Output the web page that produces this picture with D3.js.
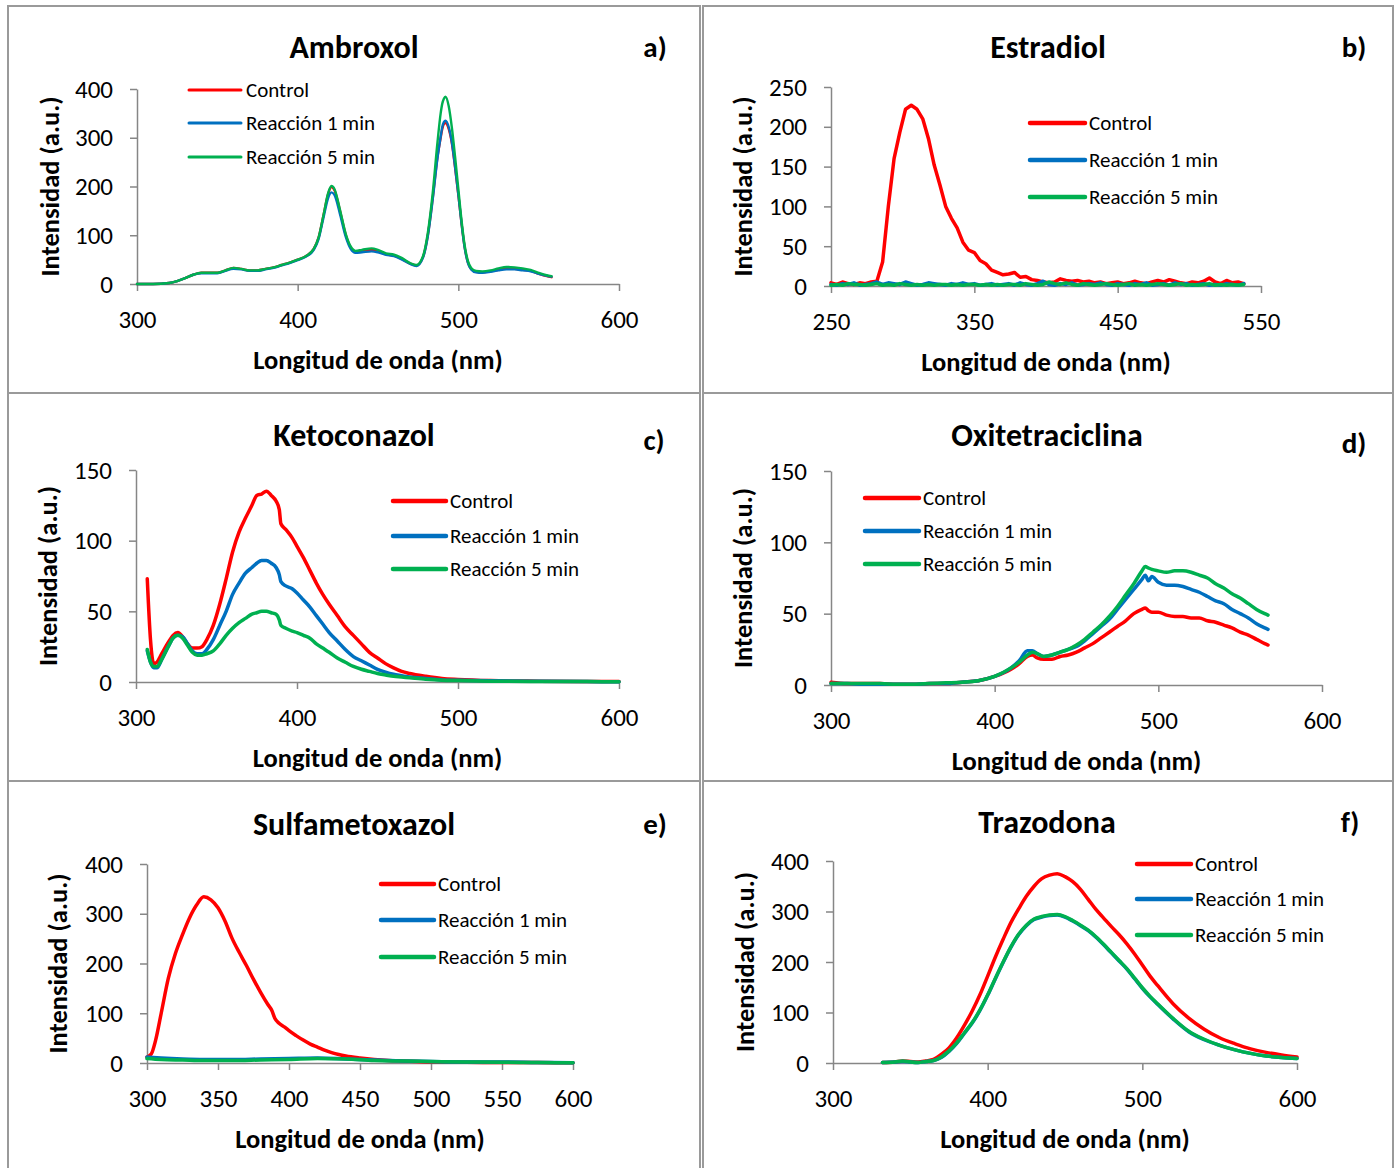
<!DOCTYPE html>
<html>
<head>
<meta charset="utf-8">
<script src="https://cdn.jsdelivr.net/npm/d3@7"></script>
<style>
  body { margin: 0; background: #fff; }
  text { font-family: Carlito, Calibri, Lato, "Open Sans", sans-serif; fill: #000; }
</style>
</head>
<body>
<svg id="chart" width="1399" height="1168"></svg>
<script>
// ---- data ----
var seriesNames = ["Control", "Reacción 1 min", "Reacción 5 min"];
var seriesColors = ["#FF0000", "#0070C0", "#00B050"];
var xTitle = "Longitud de onda (nm)";
var yTitle = "Intensidad (a.u.)";

// a) Ambroxol
var ambWl = [300,310,320,325,330,335,340,345,350,355, 360,365,370,375,380,385,390,395,400,405,
  410,413,416,419,421,423,426,430,433,436, 440,446,450,455,460,465,470,474,478,481,
  484,487,489,490,491,492,494,496,498,500, 502,504,506,508,511,515,520,525,530,535, 540,545,550,555,558];
var ambControl = [0,0,2,6,12,19,23,23,23,28, 33,31,28,28,31,34,39,44,50,57,
  72,95,140,185,199,192,155,100,75,66, 67,70,67,61,58,51,42,38,55,100,
  175,260,300,318,328,330,318,288,238,183, 124,74,44,31,25,24,26,29,32,31, 29,27,21,16,14];
var ambR1 = [0,0,2,6,12,19,22,22,22,27, 31,30,27,27,30,33,38,43,49,56,
  70,92,135,177,188,182,148,96,72,64, 65,67,65,60,57,50,41,37,54,98,
  172,258,302,322,332,335,322,290,240,184, 124,73,43,30,24,23,25,28,30,30, 28,26,21,17,15];
var ambR5 = [0,0,2,6,12,19,23,23,23,28, 33,31,28,28,31,34,39,44,50,57,
  72,95,140,187,201,194,157,102,77,68, 70,73,70,63,60,53,43,39,57,105,
  185,290,350,370,380,384,365,320,260,195, 130,78,47,33,27,26,28,32,35,34, 32,29,23,18,16];

// b) Estradiol
var estWl = [250,254,258,262,266,270,274,278,282,286, 290,294,298,302,306,310,314,318,322,326,
  330,334,338,342,346,350,354,358,362,366, 370,374,378,382,386,390,394,398,402,406,
  410,414,418,422,426,430,434,438,442,446, 450,454,458,462,466,470,474,478,482,486,
  490,494,498,502,506,510,514,518,522,526, 530,534,538];
var estControl = [4,2,5,3,2,4,3,5,6,30, 100,160,193,222,227,222,210,185,152,127,
  100,85,73,55,45,42,32,28,20,17, 14,15,17,11,12,8,7,5,4,5,
  9,7,6,7,5,6,4,5,3,4, 5,3,4,6,4,3,5,7,5,8,
  6,4,3,5,4,6,10,5,3,7, 4,5,3];
var estR1 = [2,1,3,2,4,1,2,3,5,2, 4,3,2,5,3,1,2,4,3,2,
  1,3,2,4,2,3,1,2,3,1, 2,3,1,4,2,1,3,6,2,1,
  3,2,4,1,2,3,2,4,2,1, 3,2,1,3,2,4,1,2,3,1,
  4,2,3,1,2,3,1,2,1,3, 2,1,3];
var estR5 = [1,2,1,3,2,2,1,2,3,1, 2,1,3,2,1,2,1,2,1,2,
  2,1,2,1,2,2,1,2,1,2, 1,2,2,1,3,2,1,2,5,3,
  2,4,2,1,3,2,1,2,3,2, 1,2,3,1,2,1,2,3,2,1,
  2,3,1,2,1,2,3,1,2,1, 2,1,2];

// c) Ketoconazol
var ketWl = [307,309,311,313,316,320,323,326,329,332, 335,338,341,344,348,352,356,360,364,368,
  372,375,378,381,384,387,389,390,393,397, 400,404,408,412,416,420,425,430,435,440,
  445,450,455,460,465,470,480,490,500,520, 550,580,600];
var ketControl = [73,30,13,14,20,28,33,35,32,27, 24,24,25,30,40,55,73,92,106,116,
  125,132,133,135,132,128,122,112,108,102, 96,88,79,70,62,55,47,39,33,27,
  21,17,13,10,7.5,6,4,2.5,1.8,1, 0.6,0.4,0.3];
var ketR1 = [22,14,10,10,16,25,31,33,32,27, 22,20,20,23,30,40,50,62,70,77,
  81,84,86,86,84,81,76,71,68,66, 63,58,53,47,41,35,29,23,18,15,
  12,9,7,5.5,4.5,3.5,2.5,1.5,1.2,0.8, 0.5,0.3,0.2];
var ketR5 = [23,14,11,11,16,25,31,33,31,26, 21,19,19,20,22,27,33,38,42,45,
  48,49,50,50,49,48,44,40,38,36, 35,33,31,27,24,21,17,14,11,9,
  7.5,6,5,4,3.5,3,2,1.3,1,0.6, 0.4,0.3,0.2];

// d) Oxitetraciclina
var oxiWl = [300,310,320,330,340,350,360,370,380,390, 400,410,415,420,423,426,430,435,440,445,
  450,455,460,465,470,475,480,485,490,492, 494,496,500,505,510,515,520,525,530,535,
  540,545,550,555,560,565,567];
var oxiControl = [2,1,1,1,0.5,0.5,1,1,2,3, 6,11,15,20,21,19,18,18,20,21,
  23,26,29,33,37,41,45,50,53,54, 52,51,51,49,48,48,47,47,45,44, 42,40,37,35,32,29,28];
var oxiR1 = [1,1,0.5,0.5,0.5,0.5,1,1,2,3, 6,12,17,24,24,22,20,21,23,25,
  27,31,36,41,46,53,60,67,74,77, 73,76,72,70,70,69,67,65,62,59, 57,53,50,47,43,40,39];
var oxiR5 = [1,1,1,1,0.5,0.5,1,1.5,2,3, 6,12,16,21,23,22,20,21,23,25,
  28,32,37,42,48,55,63,71,80,83, 82,81,80,79,80,80,79,77,75,71, 68,64,61,57,53,50,49];

// e) Sulfametoxazol
var sulWl = [300,303,306,310,315,320,325,330,335,340, 345,350,355,360,365,370,375,380,385,388,
  390,393,397,400,405,410,415,420,425,430, 435,440,450,460,470,480,490,500,525,550, 575,600];
var sulControl = [12,18,45,100,170,220,258,292,318,334, 328,312,285,250,222,196,168,142,118,105,
  90,80,72,65,55,46,38,32,26,21, 17,14,10,7,5,4,3,2,1.5,1, 0.8,0.5];
var sulLowWl = [300,310,325,340,360,380,400,420,440,460,480,500,525,550,575,600];
var sulR1 = [12,10,8,7,7,8,9,10,8,6,4,3,2,2,1,0.5];
var sulR5 = [9,7,6,5,5,6,7,9,8,5,4,3,2,1.5,1,0.5];

// f) Trazodona
var trzWl = [332,340,345,350,355,360,365,370,375,380, 385,390,395,400,405,410,415,420,425,430,
  435,440,445,450,455,460,465,470,475,480, 485,490,495,500,505,510,520,530,540,550,
  560,570,580,590,600];
var trzControl = [1,2,4,3,2,4,7,17,30,50, 75,103,135,172,210,245,278,305,330,350,
  365,372,375,369,359,344,324,304,287,270, 254,236,216,194,172,153,117,89,67,50, 38,28,21,16,12];
var trzR1 = [1,2,3,2,1,3,5,11,23,39, 59,79,104,134,167,199,229,254,272,284,
  289,292,293,289,281,272,262,249,234,218, 202,186,167,148,131,116,87,62,46,35, 26,19,14,11,9];
var trzR5 = [1,2,4,2,1,3,5,12,24,40, 60,80,105,135,168,200,230,255,273,285,
  290,293,294,290,282,273,263,250,235,219, 203,187,168,149,132,117,88,63,47,35, 26,19,14,11,9];

// ---- panel layout ----
var panels = [
  { title: "Ambroxol", tag: "a)", box: [8, 6, 700, 393], px: [137, 619], py: [284, 89],
    xd: [300, 600], xt: [300, 400, 500, 600], yd: [0, 400], yt: [0, 100, 200, 300, 400],
    tx: 354, ty: 47, lx: 655, ly: 47, leg: [189, 241, 246], legY: [90, 123, 157], ytx: 50, lw: 2.4, legW: 3,
    smooth: true,
    series: [[ambWl, ambControl], [ambWl, ambR1], [ambWl, ambR5]] },
  { title: "Estradiol", tag: "b)", box: [703, 6, 1393, 393], px: [831, 1261], py: [286, 87],
    xd: [250, 550], xt: [250, 350, 450, 550], yd: [0, 250], yt: [0, 50, 100, 150, 200, 250],
    tx: 1048, ty: 47, lx: 1354, ly: 47, leg: [1030, 1085, 1089], legY: [123, 160, 197], ytx: 743, lw: 3.5, legW: 4.5,
    smooth: false,
    series: [[estWl, estControl], [estWl, estR1], [estWl, estR5]] },
  { title: "Ketoconazol", tag: "c)", box: [8, 393, 700, 781], px: [136, 619], py: [682, 470],
    xd: [300, 600], xt: [300, 400, 500, 600], yd: [0, 150], yt: [0, 50, 100, 150],
    tx: 354, ty: 435, lx: 654, ly: 440, leg: [393, 446, 450], legY: [501, 536, 569], ytx: 48, lw: 3.5, legW: 4.5,
    smooth: true,
    series: [[ketWl, ketControl], [ketWl, ketR1], [ketWl, ketR5]] },
  { title: "Oxitetraciclina", tag: "d)", box: [703, 393, 1393, 781], px: [831, 1322], py: [685, 471],
    xd: [300, 600], xt: [300, 400, 500, 600], yd: [0, 150], yt: [0, 50, 100, 150],
    tx: 1047, ty: 435, lx: 1354, ly: 443, leg: [865, 919, 923], legY: [498, 531, 564], ytx: 743, lw: 3.5, legW: 4.5,
    smooth: true,
    series: [[oxiWl, oxiControl], [oxiWl, oxiR1], [oxiWl, oxiR5]] },
  { title: "Sulfametoxazol", tag: "e)", box: [8, 781, 700, 1172], px: [147, 573], py: [1063, 864],
    xd: [300, 600], xt: [300, 350, 400, 450, 500, 550, 600], yd: [0, 400], yt: [0, 100, 200, 300, 400],
    tx: 354, ty: 824, lx: 655, ly: 824, leg: [381, 434, 438], legY: [884, 920, 957], ytx: 58, lw: 3.5, legW: 4.5,
    smooth: true,
    series: [[sulWl, sulControl], [sulLowWl, sulR1], [sulLowWl, sulR5]] },
  { title: "Trazodona", tag: "f)", box: [703, 781, 1393, 1172], px: [833, 1297], py: [1063, 861],
    xd: [300, 600], xt: [300, 400, 500, 600], yd: [0, 400], yt: [0, 100, 200, 300, 400],
    tx: 1047, ty: 822, lx: 1350, ly: 822, leg: [1137, 1191, 1195], legY: [864, 899, 935], ytx: 745, lw: 3.5, legW: 4.5,
    smooth: true,
    series: [[trzWl, trzControl], [trzWl, trzR1], [trzWl, trzR5]] }
];

var svg = d3.select("#chart");

function drawPanel(p) {
  var g = svg.append("g");
  // frame
  g.append("rect")
    .attr("x", p.box[0]).attr("y", p.box[1])
    .attr("width", p.box[2] - p.box[0]).attr("height", p.box[3] - p.box[1])
    .attr("fill", "none").attr("stroke", "#9a9a9a").attr("stroke-width", 2);

  var x = d3.scaleLinear().domain(p.xd).range(p.px);
  var y = d3.scaleLinear().domain(p.yd).range(p.py);

  var xAxis = g.append("g").attr("transform", "translate(0," + p.py[0] + ")")
    .call(d3.axisBottom(x).tickValues(p.xt).tickSize(7).tickSizeOuter(0).tickPadding(19));
  var yAxis = g.append("g").attr("transform", "translate(" + p.px[0] + ",0)")
    .call(d3.axisLeft(y).tickValues(p.yt).tickSize(7).tickSizeOuter(0).tickPadding(17));
  [xAxis, yAxis].forEach(function (a) {
    a.select(".domain").attr("stroke", "#868686").attr("stroke-width", 1.5);
    a.selectAll(".tick line").attr("stroke", "#868686").attr("stroke-width", 1.5);
    a.selectAll(".tick text").style("font-size", "25px").attr("fill", "#000");
  });

  // lines
  var line = d3.line()
    .x(function (d) { return x(d[0]); })
    .y(function (d) { return y(d[1]); })
    .curve(p.smooth ? d3.curveMonotoneX : d3.curveLinear);
  p.series.forEach(function (s, i) {
    var pts = s[0].map(function (w, k) { return [w, s[1][k]]; });
    g.append("path").datum(pts)
      .attr("d", line)
      .attr("fill", "none")
      .attr("stroke", seriesColors[i])
      .attr("stroke-width", p.lw)
      .attr("stroke-linejoin", "round")
      .attr("stroke-linecap", "round");
  });

  // legend
  seriesNames.forEach(function (name, i) {
    g.append("line")
      .attr("x1", p.leg[0]).attr("x2", p.leg[1])
      .attr("y1", p.legY[i]).attr("y2", p.legY[i])
      .attr("stroke", seriesColors[i]).attr("stroke-width", p.legW)
      .attr("stroke-linecap", "round");
    g.append("text")
      .attr("x", p.leg[2]).attr("y", p.legY[i])
      .attr("dominant-baseline", "central")
      .style("font-size", "21px")
      .text(name);
  });

  // titles
  g.append("text").attr("x", p.tx).attr("y", p.ty)
    .attr("text-anchor", "middle").attr("dominant-baseline", "central")
    .style("font-size", "32px").style("font-weight", "bold").text(p.title);
  g.append("text").attr("x", p.lx).attr("y", p.ly)
    .attr("text-anchor", "middle").attr("dominant-baseline", "central")
    .style("font-size", "29px").style("font-weight", "bold").text(p.tag);
  g.append("text")
    .attr("x", (p.px[0] + p.px[1]) / 2).attr("y", p.py[0] + 76)
    .attr("text-anchor", "middle").attr("dominant-baseline", "central")
    .style("font-size", "26.5px").style("font-weight", "bold").text(xTitle);
  g.append("text")
    .attr("transform", "translate(" + p.ytx + "," + ((p.py[0] + p.py[1]) / 2) + ") rotate(-90)")
    .attr("text-anchor", "middle").attr("dominant-baseline", "central")
    .style("font-size", "26.5px").style("font-weight", "bold").text(yTitle);
}

panels.forEach(drawPanel);
</script>
</body>
</html>
